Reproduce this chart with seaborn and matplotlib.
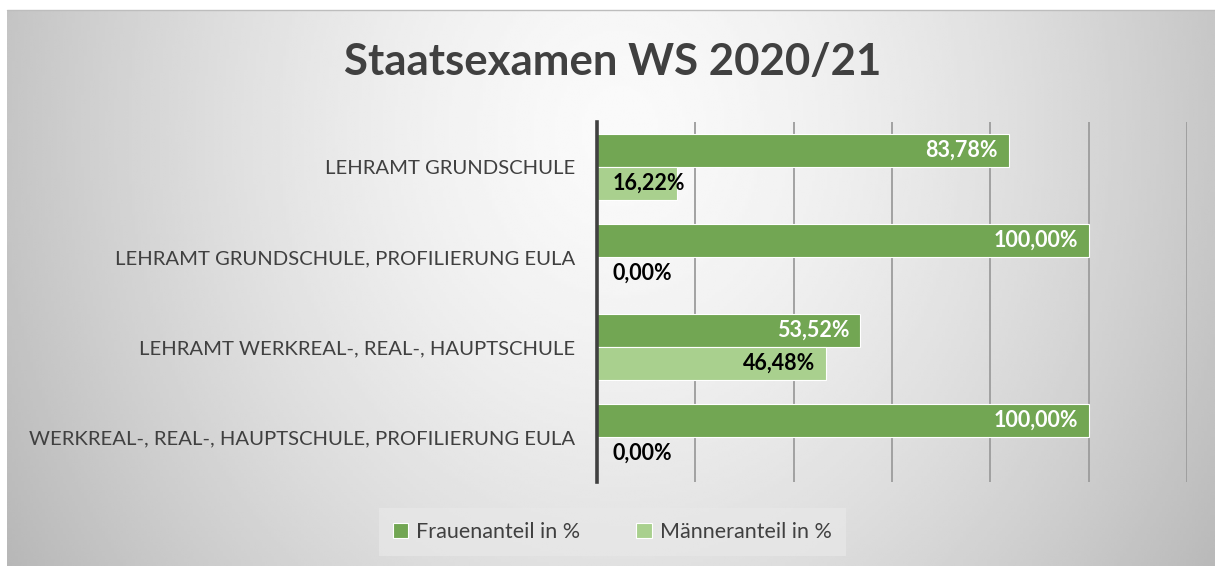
import matplotlib.pyplot as plt
import seaborn as sns
import pandas as pd
import numpy as np
from matplotlib.patches import Patch

studiengaenge = [
    'LEHRAMT GRUNDSCHULE',
    'LEHRAMT GRUNDSCHULE, PROFILIERUNG EULA',
    'LEHRAMT WERKREAL-, REAL-, HAUPTSCHULE',
    'WERKREAL-, REAL-, HAUPTSCHULE, PROFILIERUNG EULA',
]
frauen = [83.78, 100.00, 53.52, 100.00]
maenner = [16.22, 0.00, 46.48, 0.00]
serien = ['Frauenanteil in %', 'Männeranteil in %']
farben = ['#72a653', '#a9d08e']

df = pd.DataFrame({
    'Studiengang': studiengaenge * 2,
    'Serie': [serien[0]] * 4 + [serien[1]] * 4,
    'Anteil': frauen + maenner,
})

sns.set_style('white')
plt.rcParams['font.family'] = ['Lato', 'DejaVu Sans']

fig = plt.figure(figsize=(12.15, 5.66), dpi=100)
fig.patch.set_facecolor('white')

# radial grey background like the excel chart area
bg = fig.add_axes([7 / 1215, 0, 1 - 7 / 1215, 1 - 10 / 566], zorder=-5)
xx, yy = np.meshgrid(np.linspace(7, 1215, 400), np.linspace(10, 566, 200))
r = np.sqrt(((xx - 620) / 600) ** 2 + ((yy - 130) / 700) ** 2)
shade = np.clip(0.98 - 0.2 * r ** 1.5, 0, 1)
bg.imshow(shade, cmap='gray', vmin=0, vmax=1, aspect='auto', interpolation='bilinear')
bg.set_axis_off()
fig.add_artist(plt.Line2D([7 / 1215, 1], [1 - 10 / 566] * 2, color='#bdbdbd', lw=1))

ax = fig.add_axes([597 / 1215, 1 - 482 / 566, 590 / 1215, 360 / 566])
ax.set_facecolor('none')
sns.barplot(data=df, y='Studiengang', x='Anteil', hue='Serie', hue_order=serien,
            palette=farben, orient='h', width=0.733, edgecolor='white', linewidth=0.8,
            saturation=1, legend=False, ax=ax, zorder=3)

ax.set_xlim(0, 120)
ax.set_xticks(range(20, 121, 20))
ax.set_xticklabels([])
ax.xaxis.grid(True, color='#9c9c9c', linewidth=1.3, zorder=0)
ax.set_axisbelow(True)
ax.set_xlabel('')
ax.set_ylabel('')
for s in ['top', 'right', 'bottom']:
    ax.spines[s].set_visible(False)
ax.spines['left'].set_color('#404040')
ax.spines['left'].set_linewidth(2.6)
ax.spines['left'].set_zorder(6)
ax.tick_params(axis='both', length=0)
ax.tick_params(axis='y', pad=16, labelsize=14.6, labelcolor='#404040')

for i, cont in enumerate(ax.containers):
    col = 'white' if i == 0 else 'black'
    for bar in cont:
        w = bar.get_width()
        y = bar.get_y() + bar.get_height() / 2
        if w == 0:
            bar.set_linewidth(0)
        txt = f'{w:.2f}%'.replace('.', ',')
        if w > 25:
            ax.text(w - 2.2, y, txt, ha='right', va='center', color=col,
                    fontsize=15.5, fontweight='bold', zorder=5)
        else:
            ax.text(3.2, y, txt, ha='left', va='center', color=col,
                    fontsize=15.5, fontweight='bold', zorder=5)

fig.text(0.504, 1 - 62 / 566, 'Staatsexamen WS 2020/21', ha='center', va='center',
         fontsize=31.5, fontweight='bold', color='#404040')

handles = [Patch(facecolor=c, edgecolor='white', linewidth=0.8) for c in farben]
leg = fig.legend(handles, serien, loc='center', bbox_to_anchor=(0.504, 1 - 532 / 566),
                 ncol=2, frameon=True, fontsize=15.5, handlelength=0.7, handleheight=0.7,
                 handletextpad=0.4, columnspacing=2.6, borderpad=0.4, borderaxespad=0,
                 fancybox=False)
leg.get_frame().set_facecolor('#e8e8e8')
leg.get_frame().set_alpha(0.7)
leg.get_frame().set_edgecolor('none')
leg.get_frame().set_boxstyle('square', pad=0.25)
for t in leg.get_texts():
    t.set_color('#404040')

fig.savefig('out.png', dpi=100)
